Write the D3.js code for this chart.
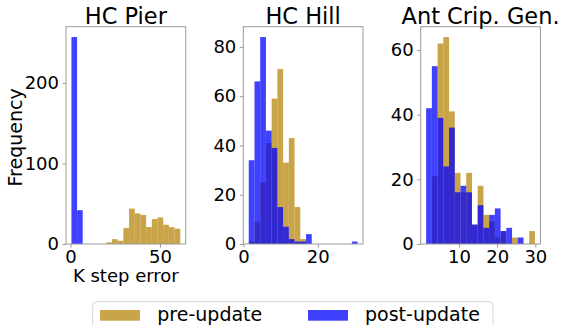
<!DOCTYPE html>
<html>
<head>
<meta charset="utf-8">
<script src="https://cdn.jsdelivr.net/npm/d3@7"></script>
<style>
  html, body { margin: 0; padding: 0; background: #fff; }
  text { font-family: "DejaVu Sans", sans-serif; }
</style>
</head>
<body>
<svg width="562" height="325"></svg>
<script>
const width = 562;
const height = 325;

const titles = ["HC Pier", "HC Hill", "Ant Crip. Gen."];

// histogram counts
const pierPre = [2, 6, 4, 20, 44, 38, 36, 21, 31, 33, 24, 21, 19];
const pierPost = [257, 42];
const hillPre = [1, 9, 25, 41, 59, 71, 33, 43, 15, 2];
const hillPost = [34, 66, 84, 46, 39, 15, 7, 2, 1, 1, 4, 0, 0, 0, 0, 0, 0, 0, 1];
const antPre = [0, 21, 62, 64, 41, 22, 16, 22, 6, 18, 9, 7, 2, 4, 0, 2, 0, 0, 4];
const antPost = [42, 55, 39, 24, 36, 16, 18, 16, 6, 12, 5, 9, 11, 4, 5, 0, 2, 0, 0];

// bin definitions: [first edge, bin width]
const pierPreBins = [20.0, 3.18];
const pierPostBins = [0.5, 3.15];
const hillBins = [1.43, 1.54];
const antBins = [1.4, 1.5];

const xTicks = [[0, 50], [0, 20], [10, 20, 30]];
const yTicks = [[0, 100, 200], [0, 20, 40, 60, 80], [0, 20, 40, 60]];

const panels = [
  { pre: pierPre, preBins: pierPreBins, post: pierPost, postBins: pierPostBins },
  { pre: hillPre, preBins: hillBins, post: hillPost, postBins: hillBins },
  { pre: antPre, preBins: antBins, post: antPost, postBins: antBins }
];

const preColor = "darkgoldenrod";
const postColor = "blue";
const axLeft = [66, 243.3, 420.7];
const axWidth = 119.7;
const axTop = 26.7;
const axBottom = 244;

function toBars(counts, bins) {
  return counts.map((c, i) => ({ x0: bins[0] + i * bins[1], x1: bins[0] + (i + 1) * bins[1], n: c }));
}

const svg = d3.select("svg");

panels.forEach((p, k) => {
  const preBars = toBars(p.pre, p.preBins);
  const postBars = toBars(p.post, p.postBins);
  const all = preBars.concat(postBars);
  const lo = d3.min(all, d => d.x0);
  const hi = d3.max(all, d => d.x1);
  const pad = (hi - lo) * 0.05;

  const x = d3.scaleLinear()
    .domain([lo - pad, hi + pad])
    .range([axLeft[k], axLeft[k] + axWidth]);
  const y = d3.scaleLinear()
    .domain([0, d3.max(all, d => d.n) * 1.05])
    .range([axBottom, axTop]);

  const g = svg.append("g");

  g.selectAll(".pre")
    .data(preBars.filter(d => d.n > 0))
    .enter()
    .append("rect")
    .attr("x", d => x(d.x0))
    .attr("width", d => x(d.x1) - x(d.x0))
    .attr("y", d => y(d.n))
    .attr("height", d => y(0) - y(d.n))
    .attr("fill", preColor)
    .attr("fill-opacity", 0.75);

  g.selectAll(".post")
    .data(postBars.filter(d => d.n > 0))
    .enter()
    .append("rect")
    .attr("x", d => x(d.x0))
    .attr("width", d => x(d.x1) - x(d.x0))
    .attr("y", d => y(d.n))
    .attr("height", d => y(0) - y(d.n))
    .attr("fill", postColor)
    .attr("fill-opacity", 0.75);

  const xAxis = d3.axisBottom(x).tickValues(xTicks[k]).tickSize(3.5).tickPadding(3);
  const yAxis = d3.axisLeft(y).tickValues(yTicks[k]).tickSize(3.5).tickPadding(3.5);

  const xa = g.append("g")
    .attr("transform", "translate(0," + axBottom + ")")
    .call(xAxis);
  const ya = g.append("g")
    .attr("transform", "translate(" + axLeft[k] + ",0)")
    .call(yAxis);

  [xa, ya].forEach(a => {
    a.select(".domain").remove();
    a.selectAll("line").attr("stroke", "#999");
    a.selectAll("text").attr("font-size", "18px").attr("fill", "#000")
      .style("font-family", "'DejaVu Sans', sans-serif");
  });

  g.append("rect")
    .attr("x", axLeft[k])
    .attr("y", axTop)
    .attr("width", axWidth)
    .attr("height", axBottom - axTop)
    .attr("fill", "none")
    .attr("stroke", "#999")
    .attr("stroke-width", 1);

  g.append("text")
    .attr("x", axLeft[k] + axWidth / 2)
    .attr("y", 24)
    .attr("text-anchor", "middle")
    .attr("font-size", "22.5px")
    .text(titles[k]);
});

svg.append("text")
  .attr("x", axLeft[0] + axWidth / 2)
  .attr("y", 282)
  .attr("text-anchor", "middle")
  .attr("font-size", "18px")
  .text("K step error");

svg.append("text")
  .attr("transform", "translate(22," + ((axTop + axBottom) / 2 + 2) + ") rotate(-90)")
  .attr("text-anchor", "middle")
  .attr("font-size", "19px")
  .text("Frequency");

// legend
const legend = svg.append("g");
legend.append("rect")
  .attr("x", 92.7)
  .attr("y", 301.7)
  .attr("width", 400.3)
  .attr("height", 34)
  .attr("rx", 4)
  .attr("fill", "#fff")
  .attr("fill-opacity", 0.8)
  .attr("stroke", "#d6d6d6");

const items = [["pre-update", preColor, 100, 157.3], ["post-update", postColor, 308, 365]];
items.forEach(it => {
  legend.append("rect")
    .attr("x", it[2])
    .attr("y", 310)
    .attr("width", 40)
    .attr("height", 10.7)
    .attr("fill", it[1])
    .attr("fill-opacity", 0.75);
  legend.append("text")
    .attr("x", it[3])
    .attr("y", 321)
    .attr("font-size", "19px")
    .text(it[0]);
});
</script>
</body>
</html>
